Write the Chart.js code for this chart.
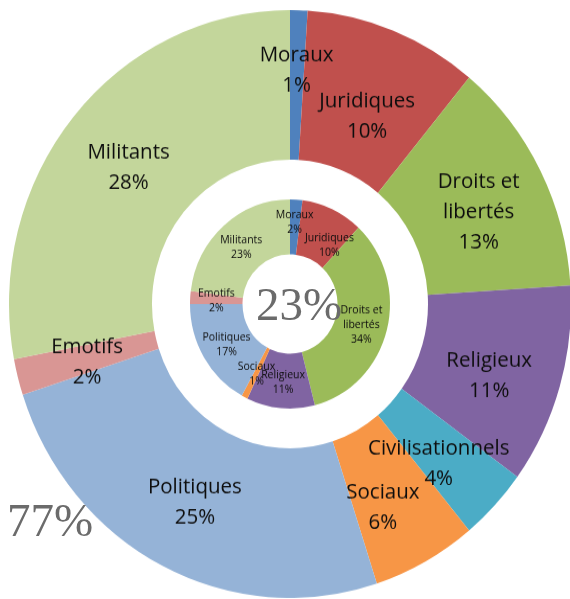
<!DOCTYPE html>
<html>
<head>
<meta charset="utf-8">
<script src="https://cdn.jsdelivr.net/npm/chart.js@4.4.1/dist/chart.umd.min.js"></script>
<style>
  html, body { margin: 0; padding: 0; background: #fff; overflow: hidden; }
  /* the original picture is slightly taller than wide, so stretch the chart a little */
  #wrap { position: absolute; left: 9px; top: 23px; width: 562px; height: 562px; transform: scaleY(1.046); transform-origin: 50% 50%; }
  .big { position: absolute; font-family: "Liberation Serif", serif; font-size: 47px; color: #6b6b6b; line-height: 1; }
</style>
</head>
<body>
<div id="wrap"><canvas id="donut"></canvas></div>
<div class="big" id="innerShare" style="left:256px;top:281px;">23%</div>
<div class="big" id="outerShare" style="left:7px;top:497px;">77%</div>
<script>
// categories, clockwise from the top
var categories = ['Moraux', 'Juridiques', 'Droits et libertés', 'Religieux', 'Civilisationnels', 'Sociaux', 'Politiques', 'Emotifs', 'Militants'];
var outerValues = [1, 10, 13, 11, 4, 6, 25, 2, 28];
var innerValues = [2, 10, 34, 11, 0, 1, 17, 2, 23];
var colors = ['#4F81BD', '#C0504D', '#9BBB59', '#8064A2', '#4BACC6', '#F79646', '#95B3D7', '#D99694', '#C3D69B'];

// split long category names on two lines like the original
function labelLines(name) {
  if (name === 'Droits et libertés') return ['Droits et', 'libertés'];
  return [name];
}

// small hand nudges so labels sit where the original put them
var nudgeOuter = { 'Moraux': [0, -17], 'Juridiques': [0, 12], 'Droits et libertés': [2, 4], 'Religieux': [-2, 7], 'Civilisationnels': [-4, 6], 'Sociaux': [-8, 8] };
var nudgeInner = { 'Moraux': [0, -6], 'Juridiques': [8, 9] };

var sliceLabels = {
  id: 'sliceLabels',
  afterDatasetsDraw: function(chart) {
    var ctx = chart.ctx;
    var sets = [{ idx: 0, size: 20.5, lh: 29, nudge: nudgeOuter }, { idx: 2, size: 10.5, lh: 14, nudge: nudgeInner }];
    sets.forEach(function(s) {
      var meta = chart.getDatasetMeta(s.idx);
      var values = chart.data.datasets[s.idx].data;
      meta.data.forEach(function(arc, i) {
        if (!values[i]) return;
        var p = arc.getProps(['x', 'y', 'startAngle', 'endAngle', 'innerRadius', 'outerRadius'], true);
        var a = (p.startAngle + p.endAngle) / 2;
        var r = (p.innerRadius + p.outerRadius) / 2;
        var n = s.nudge[categories[i]] || [0, 0];
        var cx = p.x + Math.cos(a) * r + n[0];
        var cy = p.y + Math.sin(a) * r + n[1];
        var lines = labelLines(categories[i]).concat([values[i] + '%']);
        ctx.save();
        ctx.font = s.size + 'px "Open Sans", sans-serif';
        ctx.fillStyle = '#0d0d0d';
        ctx.textAlign = 'center';
        ctx.textBaseline = 'middle';
        var y0 = cy - (lines.length - 1) * s.lh / 2 + s.size * 0.15;
        lines.forEach(function(t, k) {
          ctx.fillText(t, cx, y0 + k * s.lh);
        });
        ctx.restore();
      });
    });
  }
};

new Chart(document.getElementById('donut'), {
  type: 'doughnut',
  data: {
    labels: categories,
    datasets: [
      { data: outerValues, backgroundColor: colors, borderWidth: 0, hoverBorderWidth: 0, hoverOffset: 0, weight: 143 },
      { data: [1], backgroundColor: ['rgba(0,0,0,0)'], borderWidth: 0, hoverBorderWidth: 0, hoverOffset: 0, weight: 38 },
      { data: innerValues, backgroundColor: colors, borderWidth: 0, hoverBorderWidth: 0, hoverOffset: 0, weight: 52.5 }
    ]
  },
  options: {
    responsive: true,
    maintainAspectRatio: false,
    animation: false,
    cutout: '16.9%',
    layout: { padding: 0 },
    plugins: { legend: { display: false }, tooltip: { enabled: false } }
  },
  plugins: [sliceLabels]
});
</script>
</body>
</html>
